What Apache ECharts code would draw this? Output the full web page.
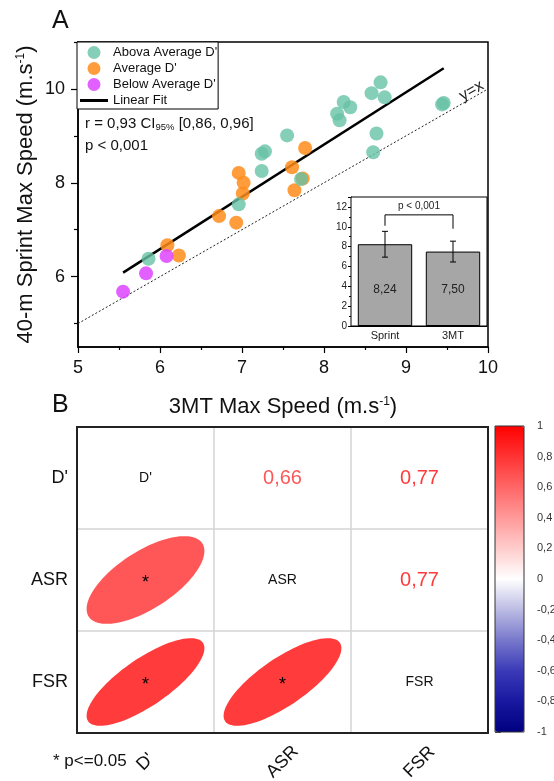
<!DOCTYPE html>
<html><head><meta charset="utf-8">
<script src="https://cdn.jsdelivr.net/npm/echarts@6/dist/echarts.min.js"></script>
<style>html,body{margin:0;padding:0;background:#fff}#c{width:554px;height:781px}</style>
</head><body><div id="c"></div>
<script>
const FONT = "'Liberation Sans', Arial, Helvetica, sans-serif";

// ---------- Panel A data (x = 3MT max speed, y = 40-m sprint max speed) ----------
const aboveAverage = [[5.86,6.38],[6.96,7.54],[7.24,8.25],[7.24,8.62],[7.28,8.67],[7.55,9.01],[7.72,8.08],
  [8.16,9.47],[8.19,9.33],[8.24,9.72],[8.32,9.61],[8.58,9.91],[8.69,10.14],[8.74,9.82],[8.64,9.05],[8.60,8.65],
  [9.46,9.70],[9.44,9.67]];
const averageD = [[6.09,6.67],[6.23,6.45],[6.72,7.29],[6.93,7.15],[6.96,8.21],[7.02,8.00],[7.01,7.77],
  [7.61,8.33],[7.64,7.84],[7.74,8.09],[7.77,8.74]];
const belowAverage = [[5.55,5.68],[5.83,6.07],[6.08,6.44]];
const seriesNames = ["Abova Average D'", "Average D'", "Below Average D'", "Linear Fit"];
const identityRange = [5, 10];
const xTickValues = [5, 6, 7, 8, 9, 10];
const yMajorTicks = [6, 8, 10];
const yMinorTicks = [5, 7, 9, 11];
const statsLine1 = ['r = 0,93 CI', '95%', ' [0,86, 0,96]'];
const statsLine2 = 'p < 0,001';

// inset
const barCategories = ['Sprint', '3MT'];
const barMeans = [8.24, 7.50];
const barSD = [1.3, 1.05];
const bracketLevels = [10.1, 11.2, 9.8];
const bracketLabel = 'p < 0,001';

// ---------- Panel B data ----------
const matrixVars = ["D'", 'ASR', 'FSR'];
// [column index, row index, r, significant]
const corrLower = [[0,1,0.66,1],[0,2,0.77,1],[1,2,0.77,1]];
const corrUpper = corrLower.map(d => [d[1], d[0], d[2]]);
const corrDiag = matrixVars.map((v, i) => [i, i]);
const colorStops = ['#000080','#1818a0','#3a3ab8','#7878cc','#bcbce4','#ffffff','#ffcccc','#ff9999','#ff6666','#ff3333','#ff0000'];

// least-squares linear fit from the scatter data
const allPts = aboveAverage.concat(averageD, belowAverage);
function linFit(pts) {
  const n = pts.length;
  let sx = 0, sy = 0, sxx = 0, sxy = 0;
  pts.forEach(p => { sx += p[0]; sy += p[1]; sxx += p[0]*p[0]; sxy += p[0]*p[1]; });
  const b = (n*sxy - sx*sy) / (n*sxx - sx*sx);
  const a = (sy - b*sx) / n;
  return [a, b];
}
const [fitA, fitB] = linFit(allPts);
const xs = allPts.map(p => p[0]);
const fitX = [Math.min(...xs), Math.max(...xs)];
const fitLine = fitX.map(x => [x, fitA + fitB*x]);

const comma = v => String(v).replace('.', ',');

const chart = echarts.init(document.getElementById('c'), null, {renderer: 'canvas'});

const option = {
  animation: false,
  backgroundColor: '#fff',
  textStyle: {fontFamily: FONT},
  grid: [
    {left: 78, top: 42, width: 410, height: 305, show: true, borderColor: '#000', borderWidth: 1.5, backgroundColor: 'transparent', outerBoundsMode: 'none', containLabel: false},
    {left: 77, top: 427, width: 411, height: 306, show: true, borderColor: '#222', borderWidth: 2, backgroundColor: 'transparent', outerBoundsMode: 'none', containLabel: false, z: 5},
    {left: 495, top: 426, width: 29, height: 306, show: true, borderColor: '#333', borderWidth: 1, backgroundColor: 'transparent', outerBoundsMode: 'none', containLabel: false, z: 10},
    {left: 351, top: 197, width: 136, height: 129, show: true, borderColor: '#000', borderWidth: 1, backgroundColor: '#fff', outerBoundsMode: 'none', containLabel: false, z: 3}
  ],
  xAxis: [
    {gridIndex: 0, type: 'value', min: 5, max: 10, interval: 1,
     axisLine: {show: true, lineStyle: {color: '#000', width: 1.5}},
     axisTick: {show: true, length: 6, lineStyle: {color: '#000', width: 1.2}},
     minorTick: {show: true, splitNumber: 2, length: 3, lineStyle: {color: '#000', width: 1.2}},
     splitLine: {show: false},
     axisLabel: {fontSize: 18, margin: 12, color: '#111', fontFamily: FONT,
       customValues: xTickValues},
     name: '3MT Max Speed (m.s{sup|-1})', nameLocation: 'middle', nameGap: 49,
     nameTextStyle: {fontSize: 22, color: '#111', fontFamily: FONT,
       rich: {sup: {fontSize: 12, verticalAlign: 'top', color: '#111', fontFamily: FONT}}}},
    {gridIndex: 1, type: 'category', data: matrixVars, position: 'bottom',
     axisLine: {show: false}, axisTick: {show: false},
     splitLine: {show: true, showMinLine: false, showMaxLine: false, lineStyle: {color: '#d4d4d4', width: 1.5}},
     axisLabel: {interval: 0, rotate: 45, fontSize: 18, margin: 29, align: 'center', verticalAlign: 'middle', color: '#111', fontFamily: FONT}},
    {gridIndex: 2, type: 'value', min: 0, max: 1, show: false},
    {gridIndex: 3, type: 'category', data: barCategories,
     axisLine: {show: true, lineStyle: {color: '#000', width: 1}},
     axisTick: {show: false},
     axisLabel: {fontSize: 11, margin: 4, color: '#222', fontFamily: FONT}}
  ],
  yAxis: [
    {gridIndex: 0, type: 'value', min: 4.5, max: 11, position: 'left',
     axisLine: {show: true, lineStyle: {color: '#000', width: 1.5}},
     axisTick: {show: true, length: 7, customValues: yMajorTicks, lineStyle: {color: '#000', width: 1.2}},
     splitLine: {show: false},
     axisLabel: {fontSize: 18, margin: 13, color: '#111', fontFamily: FONT, customValues: yMajorTicks},
     name: '40-m Sprint Max Speed (m.s{sup|-1})', nameLocation: 'middle', nameGap: 41, nameMoveOverlap: false,
     nameTextStyle: {fontSize: 22, color: '#111', fontFamily: FONT,
       rich: {sup: {fontSize: 12, verticalAlign: 'top', color: '#111', fontFamily: FONT}}}},
    {gridIndex: 0, type: 'value', min: 4.5, max: 11, position: 'left', offset: 0,
     axisLine: {show: false},
     axisTick: {show: true, length: 4, customValues: yMinorTicks, lineStyle: {color: '#000', width: 1.2}},
     axisLabel: {show: false}, splitLine: {show: false}},
    {gridIndex: 1, type: 'category', data: matrixVars, inverse: true,
     axisLine: {show: false}, axisTick: {show: false},
     splitLine: {show: true, showMinLine: false, showMaxLine: false, lineStyle: {color: '#d4d4d4', width: 1.5}},
     axisLabel: {fontSize: 18, margin: 9, color: '#111', fontFamily: FONT}},
    {gridIndex: 2, type: 'value', min: -1, max: 1, interval: 0.2, position: 'right',
     axisLine: {show: false},
     axisTick: {show: true, length: 6, lineStyle: {color: '#555'}},
     splitLine: {show: false},
     axisLabel: {fontSize: 11, margin: 13, color: '#333', fontFamily: FONT,
       formatter: v => { const r = Math.round(v*10)/10; return r === 0 ? '0' : comma(r); }}},
    {gridIndex: 3, type: 'value', min: 0, max: 13, interval: 2,
     axisLine: {show: true, lineStyle: {color: '#000', width: 1}},
     axisTick: {show: true, length: 3, lineStyle: {color: '#000'}},
     minorTick: {show: true, splitNumber: 2, length: 2, lineStyle: {color: '#000'}},
     splitLine: {show: false},
     axisLabel: {fontSize: 10, margin: 4, color: '#222', fontFamily: FONT, showMaxLabel: false}}
  ],
  legend: {
    left: 77, top: 42, orient: 'vertical', padding: [4, 1, 2, 3],
    itemWidth: 28, itemHeight: 13, itemGap: 3,
    borderColor: '#000', borderWidth: 1, backgroundColor: '#fff',
    selectedMode: false,
    textStyle: {fontSize: 13, color: '#111', fontFamily: FONT},
    data: [
      {name: seriesNames[0], icon: 'circle'},
      {name: seriesNames[1], icon: 'circle'},
      {name: seriesNames[2], icon: 'circle'},
      {name: seriesNames[3], icon: 'path://M0,0L28,0L28,3L0,3Z', itemStyle: {color: '#000', opacity: 1}}
    ]
  },
  visualMap: {
    type: 'continuous', min: -1, max: 1, dimension: 2, seriesIndex: [8, 9],
    orient: 'vertical', left: 495, top: 426, itemWidth: 29, itemHeight: 306,
    padding: 0, calculable: false, hoverLink: false, text: null, showLabel: false,
    inRange: {color: colorStops}
  },
  series: [
    {name: seriesNames[1], type: 'scatter', xAxisIndex: 0, yAxisIndex: 0, data: averageD, symbolSize: 14,
     itemStyle: {color: '#ff8c1a', opacity: 0.85}, emphasis: {disabled: true}},
    {name: seriesNames[2], type: 'scatter', xAxisIndex: 0, yAxisIndex: 0, data: belowAverage, symbolSize: 14,
     itemStyle: {color: '#dd44ff', opacity: 0.85}, emphasis: {disabled: true}},
    {name: seriesNames[0], type: 'scatter', xAxisIndex: 0, yAxisIndex: 0, data: aboveAverage, symbolSize: 14,
     itemStyle: {color: '#66c2a5', opacity: 0.8}, emphasis: {disabled: true}},
    {name: seriesNames[3], type: 'line', xAxisIndex: 0, yAxisIndex: 0, data: fitLine, symbol: 'none',
     lineStyle: {color: '#000', width: 2.5}, itemStyle: {color: '#000'}, silent: true, z: 1},
    {name: 'identity', type: 'line', xAxisIndex: 0, yAxisIndex: 0, data: identityRange.map(v => [v, v]), symbol: 'none',
     lineStyle: {color: '#222', width: 1, type: [2, 2]}, silent: true, z: 1,
     markPoint: {symbol: 'circle', symbolSize: 0, silent: true,
       data: [{coord: [9.8, 9.96], label: {show: true, formatter: 'y=x', position: 'inside', rotate: 30,
         fontSize: 16, color: '#222', fontFamily: FONT}}]}},
    {name: 'bars', type: 'bar', xAxisIndex: 3, yAxisIndex: 4, data: barMeans, barWidth: '80%',
     itemStyle: {color: '#a6a6a6', borderColor: '#000', borderWidth: 1},
     label: {show: true, position: 'insideBottom', distance: 30, fontSize: 12, color: '#222', fontFamily: FONT,
       formatter: p => comma(p.value.toFixed(2))}, z: 4, emphasis: {disabled: true}},
    {name: 'errors', type: 'custom', xAxisIndex: 3, yAxisIndex: 4, z: 6, silent: true,
     data: barMeans.map((m, i) => [i, m, barSD[i]]),
     renderItem: (params, api) => {
       const i = api.value(0), m = api.value(1), sd = api.value(2);
       const top = api.coord([i, m + sd]), bot = api.coord([i, m - sd]);
       const x = top[0], cw = 3;
       const st = {stroke: '#000', lineWidth: 1};
       return {type: 'group', children: [
         {type: 'line', shape: {x1: x, y1: top[1], x2: x, y2: bot[1]}, style: st},
         {type: 'line', shape: {x1: x - cw, y1: top[1], x2: x + cw, y2: top[1]}, style: st},
         {type: 'line', shape: {x1: x - cw, y1: bot[1], x2: x + cw, y2: bot[1]}, style: st}
       ]};
     }},
    {name: 'bracket', type: 'custom', xAxisIndex: 3, yAxisIndex: 4, z: 6, silent: true,
     data: [[0, 1, bracketLevels[0], bracketLevels[1], bracketLevels[2]]],
     renderItem: (params, api) => {
       const p0 = api.coord([api.value(0), api.value(2)]);
       const pt = api.coord([api.value(0), api.value(3)]);
       const p1 = api.coord([api.value(1), api.value(4)]);
       const pt1 = api.coord([api.value(1), api.value(3)]);
       return {type: 'group', children: [
         {type: 'polyline', shape: {points: [p0, pt, pt1, p1]}, style: {stroke: '#000', lineWidth: 1, fill: null}},
         {type: 'text', style: {text: bracketLabel, x: (pt[0] + pt1[0]) / 2, y: pt[1] - 4, align: 'center', verticalAlign: 'bottom',
           fontSize: 10, fontFamily: FONT, fill: '#222'}}
       ]};
     }},
    {name: 'ellipses', type: 'custom', xAxisIndex: 1, yAxisIndex: 2, data: corrLower, silent: true,
     encode: {x: 0, y: 1},
     renderItem: (params, api) => {
       const c = api.coord([api.value(0), api.value(1)]);
       const s = api.size([1, 1]);
       const r = api.value(2);
       const k = 0.43;
       const a = k * Math.sqrt(1 + r), b = k * Math.sqrt(1 - r);
       const pts = [];
       for (let i = 0; i < 96; i++) {
         const t = i / 96 * Math.PI * 2;
         const u = a * Math.cos(t), v = b * Math.sin(t);
         const X = (u - v) / Math.SQRT2, Y = (u + v) / Math.SQRT2;
         pts.push([c[0] + X * s[0], c[1] - Y * s[1]]);
       }
       const children = [{type: 'polygon', shape: {points: pts}, style: {fill: api.visual('color')}}];
       if (api.value(3)) children.push({type: 'text', style: {text: '*', x: c[0], y: c[1] + 3, align: 'center', verticalAlign: 'middle',
         fontSize: 18, fontFamily: FONT, fill: '#000'}});
       return {type: 'group', children};
     }},
    {name: 'upper', type: 'custom', xAxisIndex: 1, yAxisIndex: 2, data: corrUpper, silent: true,
     encode: {x: 0, y: 1},
     renderItem: (params, api) => {
       const c = api.coord([api.value(0), api.value(1)]);
       return {type: 'text', style: {text: comma(api.value(2).toFixed(2)), x: c[0], y: c[1], align: 'center', verticalAlign: 'middle',
         fontSize: 20, fontFamily: FONT, fill: api.visual('color')}};
     }},
    {name: 'diag', type: 'custom', xAxisIndex: 1, yAxisIndex: 2, data: corrDiag, silent: true,
     encode: {x: 0, y: 1},
     renderItem: (params, api) => {
       const c = api.coord([api.value(0), api.value(1)]);
       return {type: 'text', style: {text: matrixVars[params.dataIndex], x: c[0], y: c[1], align: 'center', verticalAlign: 'middle',
         fontSize: 14, fontFamily: FONT, fill: '#111'}};
     }}
  ],
  graphic: [
    {type: 'text', left: 52, top: 9, style: {text: 'A', fontSize: 25, fontFamily: FONT, fill: '#111'}},
    {type: 'text', left: 52, top: 393, style: {text: 'B', fontSize: 25, fontFamily: FONT, fill: '#111'}},
    {type: 'text', left: 85, top: 116, style: {
      text: '{a|' + statsLine1[0] + '}{s|' + statsLine1[1] + '}{a|' + statsLine1[2] + '}',
      rich: {a: {fontSize: 15, fontFamily: FONT, fill: '#111', color: '#111', lineHeight: 18},
             s: {fontSize: 9.5, fontFamily: FONT, fill: '#111', color: '#111', verticalAlign: 'bottom', lineHeight: 18}}}},
    {type: 'text', left: 85, top: 138, style: {text: statsLine2, fontSize: 15, fontFamily: FONT, fill: '#111'}},
    {type: 'text', left: 53, top: 753, style: {text: '* p<=0.05', fontSize: 17, fontFamily: FONT, fill: '#111'}}
  ]
};
chart.setOption(option);
</script>
</body></html>
